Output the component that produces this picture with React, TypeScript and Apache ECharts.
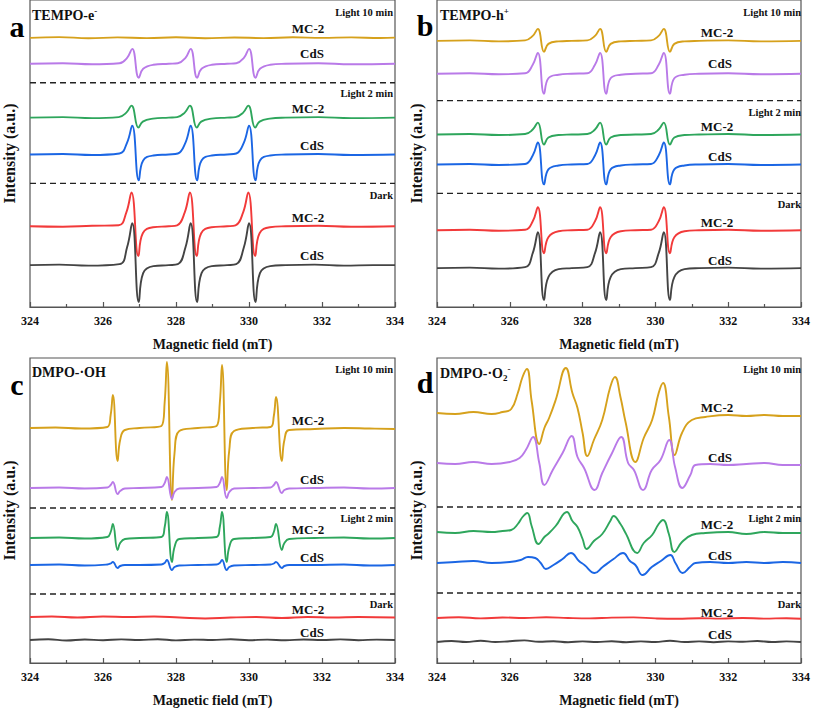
import React, { useEffect, useRef } from "react";
import * as echarts from "echarts";

// ---------- axis ----------
const X_MIN = 324;
const X_MAX = 334;
const X_INTERVAL = 2;
const X_NAME = "Magnetic field (mT)";
const Y_NAME = "Intensity (a.u.)";

const SAMPLE_MC2 = "MC-2";
const SAMPLE_CDS = "CdS";
const CONDITIONS = ["Light 10 min", "Light 2 min", "Dark"];

// ---------- panel a : TEMPO-e- (x = mT, y = a.u.) ----------
const aMC2L10 = [324, 270, 324.8, 270.8, 325.6, 269.6, 326.4, 270.5, 327.2, 269.8, 328, 270.6, 328.8, 269.7, 329.6, 270.4, 330.4, 269.8, 331.2, 270.6, 332, 270, 332.8, 270.5, 333.6, 269.9, 334, 270.3];
const aCdSL10 = [324, 244, 324.9, 244.5, 325.7, 243.5, 326.45, 244.5, 326.66, 250, 326.8, 259, 326.98, 230, 327.1, 239, 327.38, 243, 327.8, 244, 328.05, 244.5, 328.26, 250, 328.4, 259, 328.58, 230, 328.7, 239, 328.98, 243, 329.4, 244, 329.65, 244.5, 329.86, 250, 330, 259, 330.18, 230, 330.3, 239, 330.58, 243, 331, 244, 331.9, 244.5, 332.8, 243.5, 334, 244];
const aMC2L2 = [324, 190, 324.9, 190.5, 325.7, 189.5, 326.43, 190.5, 326.64, 195, 326.78, 202, 326.97, 180, 327.09, 186, 327.37, 189, 327.8, 190, 328.03, 190.5, 328.24, 195, 328.38, 202, 328.57, 180, 328.69, 186, 328.97, 189, 329.4, 190, 329.63, 190.5, 329.84, 195, 329.98, 202, 330.17, 180, 330.29, 186, 330.57, 189, 331, 190, 331.9, 190.5, 332.8, 189.5, 334, 190];
const aCdSL2 = [324, 153, 324.9, 153.5, 325.7, 152.5, 326.45, 154, 326.66, 165, 326.8, 182, 326.98, 127, 327.1, 147, 327.38, 152, 327.8, 153, 328.05, 154, 328.26, 165, 328.4, 182, 328.58, 127, 328.7, 147, 328.98, 152, 329.4, 153, 329.65, 154, 329.86, 165, 330, 182, 330.18, 127, 330.3, 147, 330.58, 152, 331, 153, 331.9, 153.5, 332.8, 152.5, 334, 153];
const aMC2Dark = [324, 81, 324.9, 80.5, 325.7, 81.5, 326.43, 82, 326.64, 95, 326.78, 115, 326.97, 51, 327.09, 74, 327.37, 80, 327.8, 81, 328.03, 82, 328.24, 95, 328.38, 115, 328.57, 51, 328.69, 74, 328.97, 80, 329.4, 81, 329.63, 82, 329.84, 95, 329.98, 115, 330.17, 51, 330.29, 74, 330.57, 80, 331, 81, 331.9, 81.5, 332.8, 80.5, 334, 81];
const aCdSDark = [324, 42, 324.8, 42.5, 325.6, 41.5, 326.45, 43, 326.66, 60, 326.8, 84, 326.98, 5, 327.1, 34, 327.38, 41, 327.8, 42, 328.05, 43, 328.26, 60, 328.4, 84, 328.58, 5, 328.7, 34, 328.98, 41, 329.4, 42, 329.65, 43, 329.86, 60, 330, 84, 330.18, 5, 330.3, 34, 330.58, 41, 331, 42, 331.8, 42.5, 332.6, 41.5, 333.4, 42, 334, 42];
const aDashed = [225, 124];

// ---------- panel b : TEMPO-h+ ----------
const bMC2L10 = [324, 267, 324.9, 267.5, 325.7, 266.5, 326.42, 267.5, 326.63, 272, 326.77, 279, 326.94, 256, 327.06, 264, 327.34, 266.5, 327.7, 267, 328.13, 267.5, 328.34, 272, 328.48, 279, 328.65, 256, 328.77, 264, 329.05, 266.5, 329.45, 267, 329.88, 267.5, 330.09, 272, 330.23, 279, 330.4, 256, 330.52, 264, 330.8, 266.5, 331.2, 267, 332, 267.5, 332.9, 266.5, 334, 267];
const bCdSL10 = [324, 234, 324.9, 234.5, 325.7, 233.5, 326.42, 234.5, 326.63, 243, 326.77, 255, 326.94, 214, 327.06, 229.5, 327.34, 233, 327.7, 234, 328.13, 234.5, 328.34, 243, 328.48, 255, 328.65, 214, 328.77, 229.5, 329.05, 233, 329.45, 234, 329.88, 234.5, 330.09, 243, 330.23, 255, 330.4, 214, 330.52, 229.5, 330.8, 233, 331.2, 234, 332, 234.5, 332.9, 233.5, 334, 234];
const bMC2L2 = [324, 173, 324.9, 173.5, 325.7, 172.5, 326.42, 173.5, 326.63, 178, 326.77, 185, 326.94, 163, 327.06, 170, 327.34, 172.5, 327.7, 173, 328.13, 173.5, 328.34, 178, 328.48, 185, 328.65, 163, 328.77, 170, 329.05, 172.5, 329.45, 173, 329.88, 173.5, 330.09, 178, 330.23, 185, 330.4, 163, 330.52, 170, 330.8, 172.5, 331.2, 173, 332, 173.5, 332.9, 172.5, 334, 173];
const bCdSL2 = [324, 143, 324.9, 143.5, 325.7, 142.5, 326.42, 143.5, 326.63, 152, 326.77, 165, 326.94, 123, 327.06, 138, 327.34, 142, 327.7, 143, 328.13, 143.5, 328.34, 152, 328.48, 165, 328.65, 123, 328.77, 138, 329.05, 142, 329.45, 143, 329.88, 143.5, 330.09, 152, 330.23, 165, 330.4, 123, 330.52, 138, 330.8, 142, 331.2, 143, 332, 143.5, 332.9, 142.5, 334, 143];
const bMC2Dark = [324, 77, 324.9, 77.5, 325.7, 76.5, 326.42, 77.5, 326.63, 86, 326.77, 100, 326.94, 54, 327.06, 70, 327.34, 76, 327.7, 77, 328.13, 77.5, 328.34, 86, 328.48, 100, 328.65, 54, 328.77, 70, 329.05, 76, 329.45, 77, 329.88, 77.5, 330.09, 86, 330.23, 100, 330.4, 54, 330.52, 70, 330.8, 76, 331.2, 77, 332, 77.5, 332.9, 76.5, 334, 77];
const bCdSDark = [324, 39, 324.9, 39.5, 325.7, 38.5, 326.42, 40, 326.63, 54, 326.77, 75, 326.94, 7, 327.06, 30, 327.34, 38, 327.7, 39, 328.13, 40, 328.34, 54, 328.48, 75, 328.65, 7, 328.77, 30, 329.05, 38, 329.45, 39, 329.88, 40, 330.09, 54, 330.23, 75, 330.4, 7, 330.52, 30, 330.8, 38, 331.2, 39, 332, 39.5, 332.9, 38.5, 334, 39];
const bDashed = [207, 114];

// ---------- panel c : DMPO-·OH ----------
const cMC2L10 = [324, 235, 324.7, 235.5, 325.4, 234.5, 326.12, 236, 326.21, 248, 326.27, 268, 326.4, 202, 326.47, 223, 326.6, 233, 327, 235, 327.6, 237, 327.69, 261, 327.75, 301, 327.89, 163, 327.96, 210, 328.09, 232, 328.6, 235, 329.11, 237, 329.2, 260, 329.26, 298, 329.39, 173, 329.46, 213, 329.59, 232, 330.1, 235, 330.59, 236, 330.68, 247, 330.74, 266, 330.9, 202, 330.97, 223, 331.1, 233, 331.8, 234, 332.6, 235, 333.3, 234.5, 334, 234];
const cCdSL10 = [324, 175, 324.8, 175.5, 325.5, 174.5, 326.12, 175.5, 326.21, 178, 326.27, 181, 326.4, 169, 326.47, 172, 326.6, 174.5, 327, 175, 327.6, 176, 327.69, 180, 327.75, 186, 327.89, 164, 327.96, 171, 328.09, 174.5, 328.6, 175, 329.11, 176, 329.2, 180, 329.26, 186, 329.39, 165, 329.46, 171, 329.59, 174.5, 330.1, 175, 330.59, 175.5, 330.68, 178, 330.74, 181, 330.9, 170, 330.97, 173, 331.1, 174.5, 331.8, 175, 332.6, 175.5, 333.3, 174.5, 334, 175];
const cMC2L2 = [324, 125, 324.8, 125.5, 325.5, 124.5, 326.12, 126, 326.21, 131, 326.27, 139, 326.4, 113, 326.47, 120, 326.6, 124, 327, 125, 327.6, 126, 327.69, 136, 327.75, 151, 327.89, 101, 327.96, 116, 328.09, 124, 328.6, 125, 329.11, 126, 329.2, 136, 329.26, 151, 329.39, 101, 329.46, 116, 329.59, 124, 330.1, 125, 330.59, 126, 330.68, 131, 330.74, 139, 330.9, 113, 330.97, 120, 331.1, 124, 331.8, 125, 332.6, 125.5, 333.3, 124.5, 334, 125];
const cCdSL2 = [324, 98, 324.8, 98.5, 325.5, 97.5, 326.12, 98.5, 326.21, 99.5, 326.27, 101, 326.4, 95, 326.47, 97, 326.6, 98, 327, 98, 327.6, 98.5, 327.69, 100, 327.75, 103, 327.89, 93, 327.96, 96, 328.09, 97.5, 328.6, 98, 329.11, 98.5, 329.2, 100, 329.26, 103, 329.39, 93, 329.46, 96, 329.59, 97.5, 330.1, 98, 330.59, 98.5, 330.68, 99.5, 330.74, 101, 330.9, 95, 330.97, 97, 331.1, 98, 331.8, 98, 332.6, 98.5, 333.3, 97.5, 334, 98];
const cMC2Dark = [324, 46, 324.6, 46.5, 325.3, 45.5, 326, 46.5, 326.7, 46, 327.4, 46.5, 328.1, 45.5, 328.8, 44.5, 329.5, 45.5, 330.2, 46, 330.9, 45, 331.6, 46, 332.3, 45.5, 333, 46, 334, 45.5];
const cCdSDark = [324, 23, 324.5, 23.8, 325, 22.5, 325.5, 23.5, 326, 22.8, 326.5, 23.6, 327, 23, 327.5, 23.8, 328, 22.6, 328.5, 23.4, 329, 23, 329.5, 23.7, 330, 22.8, 330.5, 23.4, 331, 22.7, 331.5, 23.5, 332, 23, 332.5, 23.6, 333, 22.8, 333.5, 23.4, 334, 23];
const cDashed = [155, 69];

// ---------- panel d : DMPO-·O2- ----------
const dMC2L10 = [324, 250, 324.5, 249, 325, 251, 325.5, 249, 325.8, 251, 326.04, 254, 326.22, 270, 326.35, 286, 326.47, 294, 326.6, 262, 326.81, 219, 326.95, 235, 327.08, 245, 327.26, 263, 327.54, 295, 327.72, 270, 327.86, 255, 328, 230, 328.13, 207, 328.31, 223, 328.54, 243, 328.76, 276, 328.89, 286, 329.04, 266, 329.18, 241, 329.45, 201, 329.68, 225, 329.91, 243, 330.09, 270, 330.21, 280, 330.37, 246, 330.53, 208, 330.73, 230, 331, 243, 331.37, 246, 332, 248, 332.5, 247, 333, 248, 333.5, 247, 334, 247];
const dCdSL10 = [324, 200, 324.5, 199, 325, 201, 325.5, 199, 326, 201, 326.27, 205, 326.44, 213, 326.64, 226, 326.81, 200, 326.95, 178, 327.18, 193, 327.45, 210, 327.7, 227, 327.86, 206, 328.04, 195, 328.33, 173, 328.54, 190, 328.81, 210, 329.06, 226, 329.25, 200, 329.41, 193, 329.66, 173, 329.9, 193, 330.14, 203, 330.38, 223, 330.54, 196, 330.74, 175, 330.96, 188, 331.1, 198, 331.5, 199, 332, 198, 332.5, 199, 333, 200, 333.5, 198, 334, 198];
const dMC2L2 = [324, 131, 324.5, 130, 325, 132, 325.5, 131, 325.8, 132, 326.04, 133, 326.22, 139, 326.35, 146, 326.48, 150, 326.6, 137, 326.79, 119, 326.95, 126, 327.08, 130, 327.26, 137, 327.57, 151, 327.72, 142, 327.86, 136, 328, 124, 328.11, 114, 328.31, 122, 328.54, 129, 328.76, 142, 328.85, 147, 329.04, 139, 329.18, 130, 329.5, 110, 329.68, 120, 329.91, 128, 330.09, 139, 330.21, 143, 330.37, 129, 330.52, 111, 330.73, 121, 331, 128, 331.37, 130, 332, 131, 332.5, 129, 333, 131, 333.5, 130, 334, 130];
const dCdSL2 = [324, 100, 324.5, 101, 325, 102, 325.5, 100, 326, 101, 326.3, 103, 326.5, 106, 326.7, 105, 326.85, 100, 326.99, 94, 327.2, 98, 327.45, 104, 327.68, 110, 327.9, 102, 328.05, 98, 328.33, 90, 328.55, 96, 328.85, 104, 329.11, 110, 329.3, 102, 329.45, 98, 329.65, 88, 329.9, 96, 330.15, 102, 330.41, 108, 330.55, 100, 330.75, 90, 330.95, 96, 331.1, 100, 331.5, 101, 332, 100, 332.5, 101, 333, 100, 333.5, 101, 334, 100];
const dMC2Dark = [324, 45, 324.6, 45.8, 325.2, 44.6, 325.8, 45.5, 326.4, 45, 327, 45.8, 327.6, 45, 328.2, 44.6, 328.8, 45.4, 329.4, 45.6, 330, 44.6, 330.6, 44.2, 331.2, 44.8, 331.8, 44.4, 332.4, 45, 333, 44.4, 333.6, 44.8, 334, 44.3];
const dCdSDark = [324, 21, 324.4, 22, 324.8, 21, 325.2, 22.2, 325.6, 21, 326, 21.8, 326.4, 22.6, 326.8, 21.2, 327.2, 21.8, 327.6, 20.8, 328, 21.6, 328.4, 21, 328.8, 21.8, 329.2, 20.8, 329.6, 21.6, 330, 21, 330.4, 22.2, 330.8, 21, 331.2, 21.6, 331.6, 20.8, 332, 21.6, 332.4, 21.2, 332.8, 22, 333.2, 21, 333.6, 21.6, 334, 21];
const dDashed = [156, 70];

// ---------- styling / layout ----------
const FONT = '"Liberation Serif", "Times New Roman", serif';
const GOLD = "#D6A11C";
const PURPLE = "#B97AE8";
const GREEN = "#2EA65C";
const BLUE = "#1B66E4";
const RED = "#F23A3A";
const BLACK = "#444444";
const SERIES_COLORS = [GOLD, PURPLE, GREEN, BLUE, RED, BLACK];

const pairs = (f: number[]) => {
  const out: number[][] = [];
  for (let i = 0; i < f.length; i += 2) out.push([f[i], f[i + 1]]);
  return out;
};

const PANELS = [
  {
    letter: "a", grid: { left: 29, top: -1, width: 366, height: 308 }, yMax: 308,
    curves: [aMC2L10, aCdSL10, aMC2L2, aCdSL2, aMC2Dark, aCdSDark], dashed: aDashed,
    title: "{t|TEMPO-e}{sup|-}", titlePos: [32, 15], letterPos: [17, 26],
    labelX: [308, 312], condRight: 393,
    labelY: [28, 53, 108, 145, 217, 255], condY: [12, 93, 195],
  },
  {
    letter: "b", grid: { left: 437, top: -1, width: 366, height: 308 }, yMax: 308,
    curves: [bMC2L10, bCdSL10, bMC2L2, bCdSL2, bMC2Dark, bCdSDark], dashed: bDashed,
    title: "{t|TEMPO-h}{sup|+}", titlePos: [440, 15], letterPos: [425, 25],
    labelX: [717, 720], condRight: 801,
    labelY: [32, 63, 126, 156, 222, 260], condY: [12, 112, 204],
  },
  {
    letter: "c", grid: { left: 29, top: 358, width: 366, height: 305 }, yMax: 305,
    curves: [cMC2L10, cCdSL10, cMC2L2, cCdSL2, cMC2Dark, cCdSDark], dashed: cDashed,
    title: "{t|DMPO-·OH}", titlePos: [32, 372], letterPos: [17, 384],
    labelX: [308, 312], condRight: 393,
    labelY: [420, 479, 529, 557, 609, 632], condY: [369, 518, 604],
  },
  {
    letter: "d", grid: { left: 437, top: 358, width: 366, height: 305 }, yMax: 305,
    curves: [dMC2L10, dCdSL10, dMC2L2, dCdSL2, dMC2Dark, dCdSDark], dashed: dDashed,
    title: "{t|DMPO-·O}{sub|2}{sup|-}", titlePos: [440, 373], letterPos: [425, 382],
    labelX: [717, 720], condRight: 801,
    labelY: [407, 457, 524, 555, 612, 634], condY: [369, 518, 604],
  },
];

export default function App() {
  const ref = useRef<HTMLDivElement>(null);

  useEffect(() => {
    if (!ref.current) return;
    const chart = echarts.init(ref.current, undefined, { renderer: "svg" });

    const grids: any[] = [];
    const xAxes: any[] = [];
    const yAxes: any[] = [];
    const series: any[] = [];
    const graphics: any[] = [];

    PANELS.forEach((p, i) => {
      grids.push({ ...p.grid, show: true, borderColor: "#555", borderWidth: 1.2, containLabel: false });
      xAxes.push({
        gridIndex: i, type: "value", min: X_MIN, max: X_MAX, interval: X_INTERVAL,
        axisLine: { show: true, onZero: false, lineStyle: { color: "#555", width: 1.2 } },
        axisTick: { show: true, inside: true, length: 5, lineStyle: { color: "#555", width: 1.2 } },
        minorTick: { show: true, splitNumber: 2, length: 3, lineStyle: { color: "#555", width: 1.2 } },
        axisLabel: { color: "#111", fontFamily: FONT, fontWeight: "bold", fontSize: 12, margin: 8 },
        splitLine: { show: false },
        name: X_NAME, nameLocation: "middle", nameGap: 30,
        nameTextStyle: { color: "#111", fontFamily: FONT, fontWeight: "bold", fontSize: 14 },
      });
      yAxes.push({
        gridIndex: i, type: "value", min: 0, max: p.yMax,
        axisLine: { show: false }, axisTick: { show: false }, axisLabel: { show: false },
        splitLine: { show: false },
        name: Y_NAME, nameLocation: "middle", nameGap: 13, nameRotate: 90,
        nameTextStyle: { color: "#111", fontFamily: FONT, fontWeight: "bold", fontSize: 16 },
      });
      p.dashed.forEach((y) => {
        series.push({
          type: "line", xAxisIndex: i, yAxisIndex: i, silent: true, showSymbol: false,
          data: [[X_MIN, y], [X_MAX, y]],
          lineStyle: { color: "#222", width: 1.4, type: [6, 4] },
        });
      });
      p.curves.forEach((c, k) => {
        series.push({
          type: "line", xAxisIndex: i, yAxisIndex: i, showSymbol: false, silent: true,
          smooth: 0.45,
          name: `${p.letter}-${k % 2 === 0 ? SAMPLE_MC2 : SAMPLE_CDS}-${CONDITIONS[Math.floor(k / 2)]}`,
          data: pairs(c),
          lineStyle: { color: SERIES_COLORS[k], width: 1.9, join: "round" },
        });
      });

      graphics.push({
        type: "text", x: p.letterPos[0], y: p.letterPos[1],
        style: { text: p.letter, font: `bold 30px ${FONT}`, fill: "#000", align: "center", verticalAlign: "middle" },
      });
      graphics.push({
        type: "text", x: p.titlePos[0], y: p.titlePos[1],
        style: {
          text: p.title, fill: "#111", align: "left", verticalAlign: "middle",
          rich: {
            t: { font: `bold 14px ${FONT}`, fill: "#111", lineHeight: 18, verticalAlign: "middle" },
            sup: { font: `bold 9px ${FONT}`, fill: "#111", lineHeight: 18, verticalAlign: "top", padding: [0, 0, 6, 0] },
            sub: { font: `bold 9px ${FONT}`, fill: "#111", lineHeight: 18, verticalAlign: "bottom", padding: [6, 0, 0, 0] },
          },
        },
      });
      p.labelY.forEach((y, k) => {
        graphics.push({
          type: "text", x: p.labelX[k % 2], y,
          style: { text: k % 2 === 0 ? SAMPLE_MC2 : SAMPLE_CDS, font: `bold 13px ${FONT}`, fill: "#111", align: "center", verticalAlign: "middle" },
        });
      });
      p.condY.forEach((y, k) => {
        graphics.push({
          type: "text", x: p.condRight, y,
          style: { text: CONDITIONS[k], font: `bold 10.5px ${FONT}`, fill: "#111", align: "right", verticalAlign: "middle" },
        });
      });
    });

    chart.setOption({
      animation: false,
      backgroundColor: "#fff",
      grid: grids,
      xAxis: xAxes,
      yAxis: yAxes,
      series,
      graphic: graphics,
    });

    return () => chart.dispose();
  }, []);

  return <div ref={ref} style={{ position: "fixed", left: 0, top: 0, width: 813, height: 713 }} />;
}
